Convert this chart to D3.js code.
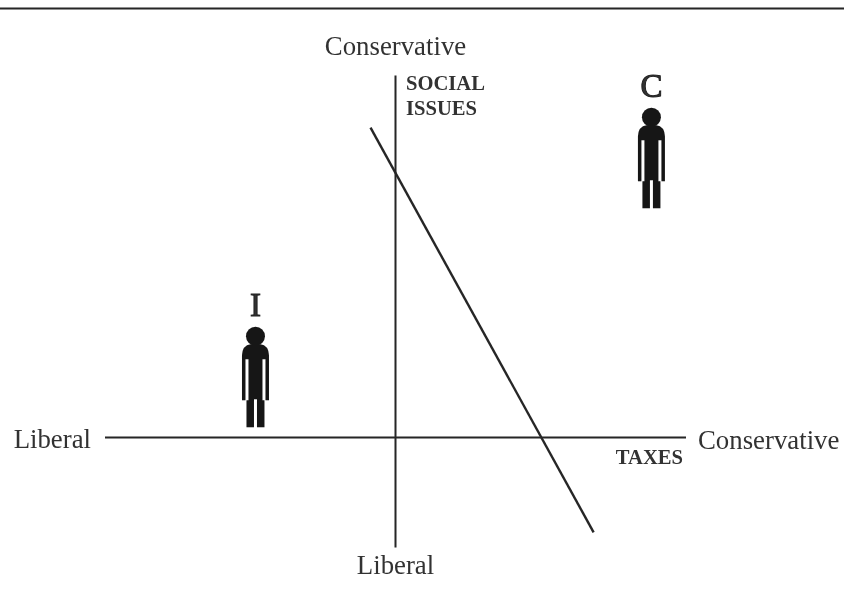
<!DOCTYPE html>
<html>
<head>
<meta charset="utf-8">
<script src="https://cdn.jsdelivr.net/npm/d3@7"></script>
<style>
  html, body { margin: 0; padding: 0; background: #fff; }
  text { font-family: "Liberation Serif", serif; fill: #333; }
  .big { font-size: 26.8px; }
  .small { font-size: 20.6px; font-weight: bold; }
  .letter { font-size: 33px; stroke: #222; stroke-width: 1; }
</style>
</head>
<body>
<div id="container"></div>
<script>
// positions on the two issue axes, taxes left to right, social issues bottom to top
var axisX = [-10, 10];
var axisY = [-3.04, 10];
var cutLineX = [-0.86, 6.82];
var cutLineY = [8.56, -2.62];
var voterNames = ['I', 'C'];
var voterX = [-4.82, 8.81];
var voterY = [0.28, 6.33];

var width = 844, height = 607;

var root = d3.select('#container').append('svg')
  .attr('width', width)
  .attr('height', height)
  .style('display', 'block');

// the original is a soft scan
root.append('filter').attr('id', 'soft')
  .append('feGaussianBlur').attr('stdDeviation', 0.45);

var svg = root.append('g').attr('filter', 'url(#soft)');

var x = d3.scaleLinear().domain(axisX).range([105, 686]);
var y = d3.scaleLinear().domain(axisY).range([547.5, 75.5]);

var ink = '#262626';

// rule across the top of the page
svg.append('line')
  .attr('x1', -5).attr('x2', width + 5)
  .attr('y1', 8.5).attr('y2', 8.5)
  .attr('stroke', ink).attr('stroke-width', 2);

// the axes, no ticks
svg.append('line')
  .attr('x1', x(axisX[0])).attr('x2', x(axisX[1]))
  .attr('y1', y(0)).attr('y2', y(0))
  .attr('stroke', ink).attr('stroke-width', 2);

svg.append('line')
  .attr('x1', x(0)).attr('x2', x(0))
  .attr('y1', y(axisY[0])).attr('y2', y(axisY[1]))
  .attr('stroke', ink).attr('stroke-width', 2);

// cutting line
var line = d3.line().x(function(d) { return x(d[0]); }).y(function(d) { return y(d[1]); });
svg.append('path')
  .attr('d', line(d3.zip(cutLineX, cutLineY)))
  .attr('fill', 'none')
  .attr('stroke', ink)
  .attr('stroke-width', 2.4);

// labels
var labels = [
  ['Conservative', 395.5, 55, 'middle', 'big'],
  ['Liberal', 395.5, 574, 'middle', 'big'],
  ['Liberal', 91, 448, 'end', 'big'],
  ['Conservative', 698, 449, 'start', 'big'],
  ['SOCIAL', 406, 90, 'start', 'small'],
  ['ISSUES', 406, 115, 'start', 'small'],
  ['TAXES', 683, 464, 'end', 'small']
];

svg.selectAll('.label')
  .data(labels)
  .enter().append('text')
  .attr('class', function(d) { return 'label ' + d[4]; })
  .attr('x', function(d) { return d[1]; })
  .attr('y', function(d) { return d[2]; })
  .attr('text-anchor', function(d) { return d[3]; })
  .text(function(d) { return d[0]; });

// stick figure, origin at the feet
var person = 'M-13.5,-72 Q-13,-82 -5,-83 L5,-83 Q13,-82 13.5,-72 L13.5,-27 L10,-27 L10,-68 L7,-68 L7,-27 L9,-27 L9,0 L1.5,0 L1.5,-28 L-1.5,-28 L-1.5,0 L-9,0 L-9,-27 L-7,-27 L-7,-68 L-10,-68 L-10,-27 L-13.5,-27 Z';

var voters = svg.selectAll('.voter')
  .data(voterNames)
  .enter().append('g')
  .attr('class', 'voter')
  .attr('transform', function(d, i) { return 'translate(' + x(voterX[i]) + ',' + y(voterY[i]) + ')'; });

voters.append('path').attr('d', person).attr('fill', '#161616');
voters.append('circle').attr('cy', -91).attr('r', 9.5).attr('fill', '#161616');
voters.append('text')
  .attr('class', 'letter')
  .attr('text-anchor', 'middle')
  .attr('y', -111)
  .text(function(d) { return d; });
</script>
</body>
</html>
